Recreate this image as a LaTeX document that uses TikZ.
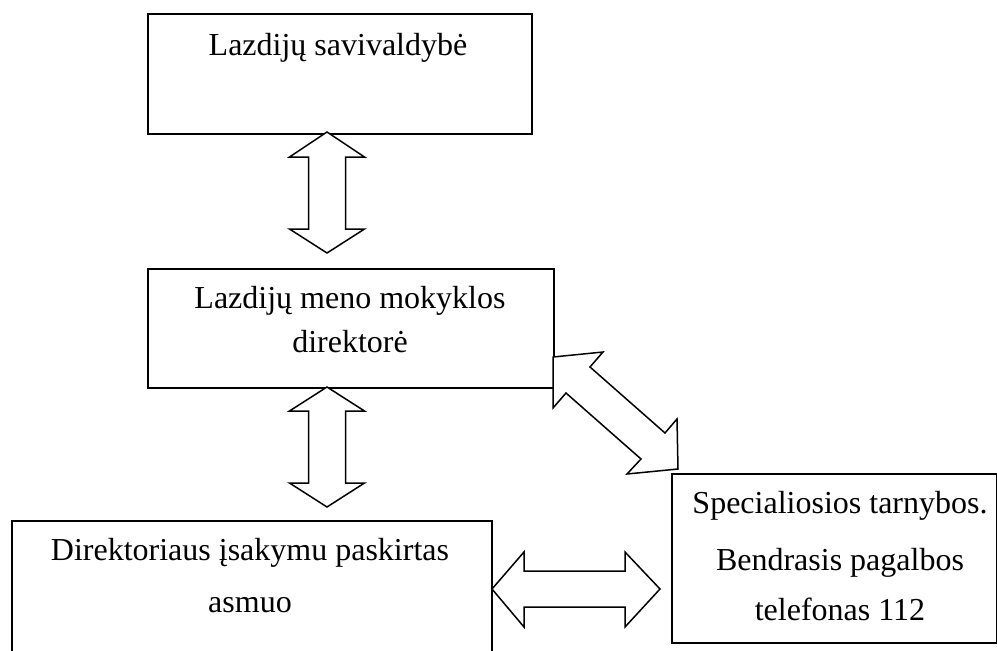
\documentclass[tikz,border=0pt]{standalone}
\usepackage{fontspec}
\setmainfont{Liberation Serif}
\begin{document}
\begin{tikzpicture}[x=1pt,y=-1pt,
  box/.style={draw, line width=1.5pt, rectangle, inner sep=0pt, anchor=north west},
  lbl/.style={anchor=base, font=\fontsize{32}{38}\selectfont, inner sep=0pt},
  fatarrow/.style={draw, line width=1.5pt, fill=white, line join=miter}]
\useasboundingbox (0,0) rectangle (997,651);
\clip (0,0) rectangle (997,651);
% boxes
\node[box, minimum width=384pt, minimum height=120pt] (b1) at (147,13) {};
\node[box, minimum width=406pt, minimum height=119pt] (b2) at (147,268) {};
\node[box, minimum width=480pt, minimum height=150pt] (b3) at (11,520) {};
\node[box, minimum width=325pt, minimum height=169pt] (b4) at (671,473) {};
% texts
\node[lbl] (t1) at (338,55) {Lazdijų savivaldybė};
\node[lbl] (t2a) at (350,308) {Lazdijų meno mokyklos};
\node[lbl] (t2b) at (350,352) {direktorė};
\node[lbl] (t3a) at (250,560) {Direktoriaus įsakymu paskirtas};
\node[lbl] (t3b) at (250,612) {asmuo};
\node[lbl] (t4a) at (840,513) {Specialiosios tarnybos.};
\node[lbl] (t4b) at (840,570) {Bendrasis pagalbos};
\node[lbl] (t4c) at (840,620) {telefonas 112};
% arrow b1 <-> b2
\coordinate (a1) at (327,132);
\draw[fatarrow] (a1) -- ++(37.5,25) -- ++(-19,0) -- ++(0,72) -- ++(19,0)
  -- ++(-37.5,24) -- ++(-37.5,-24) -- ++(19,0) -- ++(0,-72) -- ++(-19,0) -- cycle;
% arrow b2 <-> b3
\coordinate (a2) at (327,387);
\draw[fatarrow] (a2) -- ++(37.5,24) -- ++(-19,0) -- ++(0,72) -- ++(19,0)
  -- ++(-37.5,24) -- ++(-37.5,-24) -- ++(19,0) -- ++(0,-72) -- ++(-19,0) -- cycle;
% arrow b3 <-> b4
\coordinate (a3) at (492,589);
\draw[fatarrow] (a3) -- ++(32,-37) -- ++(0,19) -- ++(101,0) -- ++(0,-19)
  -- ++(35,37) -- ++(-35,38) -- ++(0,-20) -- ++(-101,0) -- ++(0,20) -- cycle;
% arrow b2 <-> b4 (diagonal)
\coordinate (d1) at (553,357);
\coordinate (d2) at (603,352);
\coordinate (d3) at (590,367);
\coordinate (d4) at (665,433);
\coordinate (d5) at (677,419);
\coordinate (d6) at (678,469);
\coordinate (d7) at (627,474);
\coordinate (d8) at (641,459);
\coordinate (d9) at (566,393);
\coordinate (d10) at (553,408);
\draw[fatarrow] (d1) -- (d2) -- (d3) -- (d4) -- (d5) -- (d6) -- (d7) -- (d8) -- (d9) -- (d10) -- cycle;
\end{tikzpicture}
\end{document}
